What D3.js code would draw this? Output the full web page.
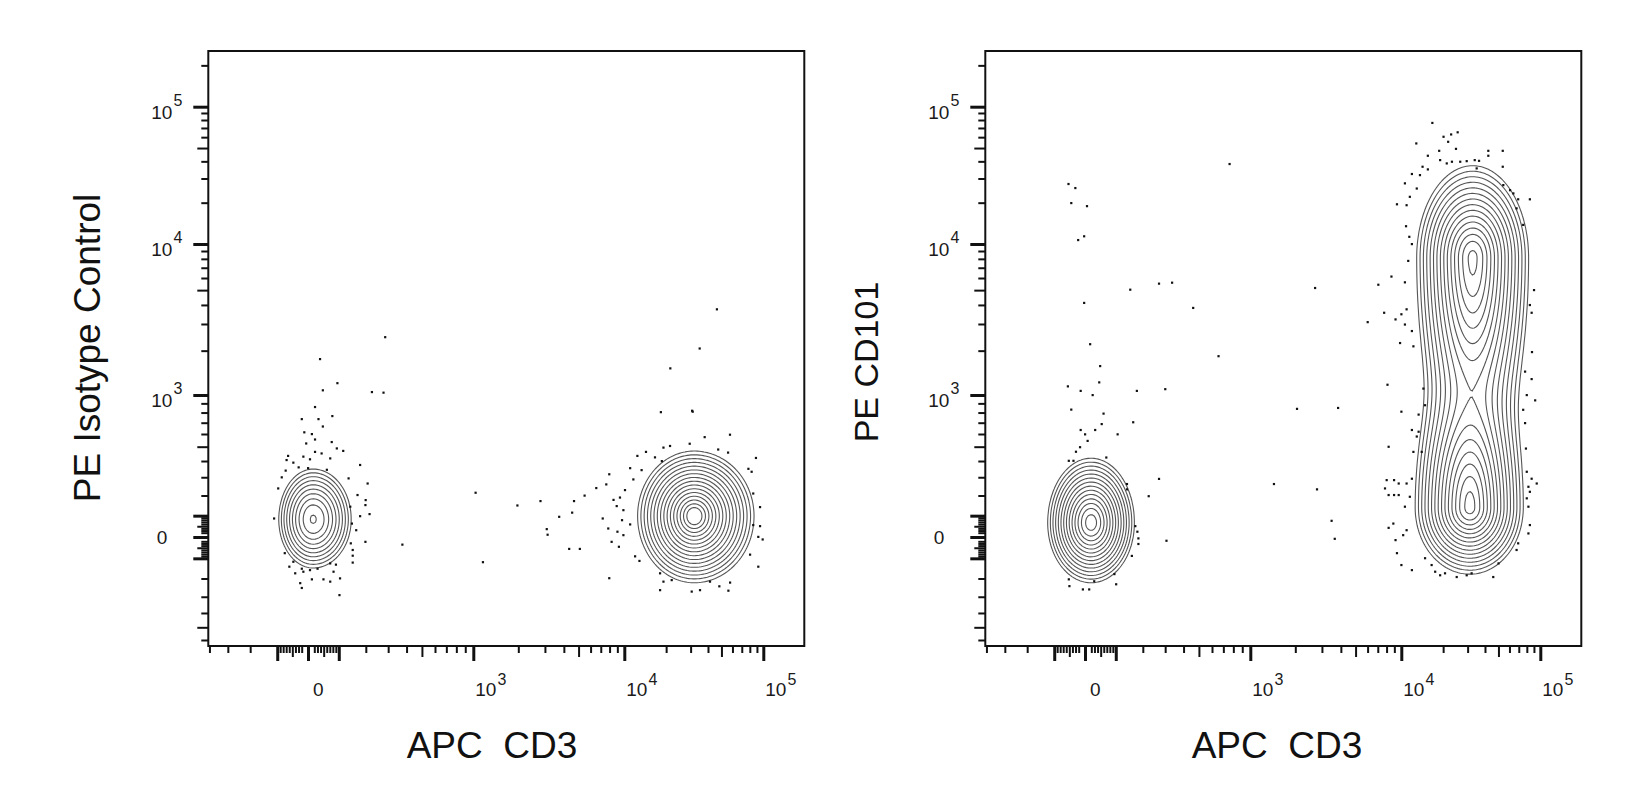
<!DOCTYPE html>
<html>
<head>
<meta charset="utf-8">
<script src="https://cdn.jsdelivr.net/npm/d3@7"></script>
<style>
    body { margin: 0; background: #fff; }
    text { font-family: "Liberation Sans", Arial, sans-serif; }
</style>
</head>
<body>
<svg id="chart" width="1650" height="800"></svg>
<script>
// ---- chart text ----
const xTitle = "APC  CD3";
const yTitles = ["PE Isotype Control", "PE CD101"];

// labelled ticks (same on both axes)
const tickLabelValues = [0, 1e3, 1e4, 1e5];
const tickLabelExps = ["", "3", "4", "5"];

// tick marks
const majorTickValues = [-100, 0, 100, 1e3, 1e4, 1e5];
const midTickValues = [-500, -50, 50, 500, 5e3, 5e4];
const minorSteps = [2, 3, 4, 6, 7, 8, 9];
const minorDecades = [-100, -10, 10, 100, 1e3, 1e4, 1e5];

// populations drawn as contours:
// [x mode, y mode, x low edge, x high edge, y low edge, y high edge, relative peak]
const isoClusters = [
    [13, 87, -98, 140, -142, 355, 0.45],
    [31300, 103, 12270, 84300, -217, 475, 1.0]
];
const cd101Clusters = [
    [16, 71, -126, 163, -217, 425, 0.85],
    [32100, 8240, 12700, 81000, 343, 37800, 0.9],
    [30600, 143, 12400, 74000, -172, 1970, 0.9]
];

// outlier events [APC CD3, PE]
const isoDots = [
    [47, 1080], [95, 1210], [277, 1040], [22, 860], [78, 765], [-20, 735], [33, 735], [47, 666],
    [-12, 615], [12, 600], [22, 556], [-6, 525], [76, 536], [93, 488], [115, 470], [22, 463],
    [43, 452], [-15, 430], [6, 412], [-64, 435], [-47, 390], [-72, 340], [71, 418], [177, 375],
    [134, 294], [207, 265], [-97, 238], [167, 203], [199, 177], [198, 152], [140, 144], [177, 98],
    [215, 108], [-111, 87], [146, 63], [162, 32], [142, -29], [198, -22], [149, -60], [149, -87],
    [149, -120], [-75, -75], [-47, -116], [71, -124], [-41, -173], [-15, -165], [12, -204], [49, -204],
    [-25, -224], [-20, -250], [71, -216], [104, -199], [102, -290], [6, -157], [82, -165], [-69, 407],
    [-85, 300], [-30, 360], [0, 355], [60, 345], [-60, -140], [-20, -150], [30, -150], [90, -130],
    [38, 1760], [285, 2460], [225, 1050],
    [375, -35], [1035, 215], [1160, -118], [1970, 150], [2800, 172], [3120, 11], [3080, 37],
    [3720, 95], [4530, 115], [4660, 172], [4330, -55], [5090, -55], [5470, 200], [6530, 240], [7600, 260],
    [46300, 3750], [34800, 2070], [21400, 1525], [30700, 820], [18300, 805],
    [31000, 810], [37800, 575], [57500, 595], [21300, 506], [29500, 523], [19100, 494], [47300, 480],
    [55700, 458], [88400, 421], [14300, 463], [16600, 425], [12400, 435], [18600, 400], [11000, 355],
    [13300, 343], [11600, 288], [7950, 318], [10100, 229], [9350, 190], [8480, 178], [8900, 147],
    [9850, 127], [7200, 87], [9650, 79], [11000, 59], [7830, 40], [9000, 25], [8240, -22], [9850, 9],
    [9200, -45], [82300, 333], [84500, 211], [94600, 142], [84500, 56], [94600, 51], [91900, 1],
    [98800, -11], [91900, -140], [11940, -90], [12830, -112], [7950, -198], [18060, -173], [19100, -216],
    [18060, -262], [21900, -208], [35000, -262], [41300, -216], [48200, -241], [56000, -265],
    [57600, -221], [30500, -270], [80200, -82], [78000, 351]
];
const cd101Dots = [
    [-55, 1150], [45, 1225], [-14, 1070], [24, 1000], [176, 1070], [-44, 832], [59, 790], [53, 688],
    [-14, 635], [32, 635], [0, 598], [106, 598], [8, 545], [-16, 497], [-29, 464], [-52, 402],
    [-37, 402], [68, 424], [139, 262], [139, 233], [224, 197], [170, 51], [178, 25], [182, -6],
    [182, -32], [157, -88], [95, -177], [101, -230], [-52, -204], [-50, -240], [-7, -258], [13, -258],
    [29, -214],
    [-53, 27400], [-31, 25600], [-44, 19900], [6, 18900], [-3, 11400], [-22, 10700], [-3, 4130],
    [16, 2210], [48, 1580], [151, 5040], [270, 5520], [335, 5600], [460, 3830], [655, 1840],
    [300, 1100], [162, 705], [270, 291], [306, -17], [760, 38300],
    [2700, 5170], [1440, 262], [2780, 233], [3470, 76], [3640, -8], [3830, 850], [2050, 840],
    [7050, 5430], [6000, 3090],
    [16700, 76300], [20100, 60500], [22800, 62900], [25400, 65200], [21700, 55600], [12800, 54100],
    [18700, 47800], [24700, 49400], [15500, 44000], [42200, 47800], [53600, 47800], [42200, 44000],
    [19000, 40900], [21200, 38700], [23100, 39800], [26500, 39800], [29500, 40200], [33700, 40900],
    [36200, 40400], [34800, 35600], [53600, 36600], [14200, 36600], [15500, 35000], [11900, 32400],
    [13600, 31800], [10600, 27700], [12900, 25400], [11500, 22100], [9350, 19500], [10900, 19200],
    [60500, 24700], [63900, 23400], [54100, 26900], [69200, 21200], [84000, 21200], [67400, 18200],
    [10800, 13500], [11400, 11300], [11900, 10000], [75200, 13800], [11200, 7770], [8600, 6140],
    [10600, 5630], [90000, 5010], [84000, 4000], [86500, 3560], [7700, 3560], [9150, 3220],
    [10000, 3480], [10900, 3750], [10600, 2980], [11900, 2700], [9800, 2250], [12200, 2140],
    [87000, 1960], [77600, 1450], [8100, 1180], [14400, 1110], [86500, 1290], [79800, 1000],
    [91700, 936], [14800, 880], [10000, 810], [13300, 780], [75200, 830], [11900, 635], [13300, 620],
    [12900, 580], [8240, 500], [12200, 463], [14000, 463], [77600, 697], [78700, 487], [8000, 284],
    [8950, 284], [9600, 265], [7800, 238], [10900, 265], [11900, 292], [8240, 203], [8950, 203],
    [9600, 203], [11500, 194], [10600, 144], [79800, 333], [86500, 292], [94100, 265], [82000, 247],
    [84000, 220], [79800, 186], [82000, 144], [8850, 63], [8240, 43], [10300, 9], [9150, -14],
    [10900, 32], [84000, 56], [82000, 17], [69200, -29], [9350, -75], [10000, -132], [11900, -157],
    [14800, -99], [16500, -132], [17500, -165], [19000, -183], [20600, -173], [25000, -192],
    [29500, -183], [32000, -173], [45800, -192], [50000, -124], [67400, -60]
];

// ---- layout ----
const frameTop = 51, frameW = 596, frameH = 595;
const panels = [
    { id: "iso", left: 208.3, clusters: isoClusters, dots: isoDots, yTitle: yTitles[0],
      xTitleX: 492, yTitleX: 100, yTitleY: 348, yTitleSize: 37 },
    { id: "cd101", left: 985.3, clusters: cd101Clusters, dots: cd101Dots, yTitle: yTitles[1],
      xTitleX: 1277, yTitleX: 878, yTitleY: 362, yTitleSize: 34 }
];

// biexponential-like display transform, anchored on the decade ticks
const xCof = 250, yCof = 400;
const tx = v => Math.asinh(v / xCof);
const ty = v => Math.asinh(v / yCof);
const anchorValues = [0, 1e3, 1e4, 1e5];

// contour levels: evenly spaced rings for a unit-peak population
const ringRadii = d3.range(0.35, 2.81, 0.155);
const levels = ringRadii.map(r => Math.exp(-r * r / 2)).sort((a, b) => a - b);
const outerLevel = levels[0];

const minorTickValues = minorDecades.flatMap(d => minorSteps.map(s => s * d));
const tickSets = [
    { values: minorTickValues, len: 7, w: 2 },
    { values: midTickValues, len: 11, w: 2 },
    { values: majorTickValues, len: 15, w: 3 }
];

const svg = d3.select("#chart");
svg.append("rect").attr("width", 1650).attr("height", 800).attr("fill", "#fff");

panels.forEach(DrawPanel);

function DrawPanel(p) {
    const x0 = p.left;
    const xs = d3.scaleLinear().domain(anchorValues.map(tx))
        .range([99.7, 265, 416, 555].map(d => d + x0));
    const ys = d3.scaleLinear().domain(anchorValues.map(ty))
        .range([537, 395, 244, 106.7]);
    const X = v => xs(tx(v));
    const Y = v => ys(ty(v));

    const g = svg.append("g");
    svg.append("clipPath").attr("id", "clip-" + p.id)
        .append("rect").attr("x", x0).attr("y", frameTop).attr("width", frameW).attr("height", frameH);

    // density grid in screen space (split gaussians)
    const cell = 2;
    const nx = Math.ceil(frameW / cell) + 1, ny = Math.ceil(frameH / cell) + 1;
    const comps = p.clusters.map(([xm, ym, xLo, xHi, yLo, yHi, peak]) => {
        const r = Math.sqrt(2 * Math.log(peak / outerLevel));
        const cx = X(xm), cy = Y(ym);
        return {
            cx: cx, cy: cy, peak: peak,
            sxL: Math.abs(cx - X(xLo)) / r, sxR: Math.abs(X(xHi) - cx) / r,
            syB: Math.abs(Y(yLo) - cy) / r, syT: Math.abs(cy - Y(yHi)) / r
        };
    });
    const grid = new Float64Array(nx * ny);
    for (let j = 0; j < ny; j++) {
        const py = frameTop + j * cell;
        for (let i = 0; i < nx; i++) {
            const px = x0 + i * cell;
            let s = 0;
            comps.forEach(c => {
                const dx = (px - c.cx) / (px < c.cx ? c.sxL : c.sxR);
                const dy = (py - c.cy) / (py > c.cy ? c.syB : c.syT);
                s += c.peak * Math.exp(-(dx * dx + dy * dy) / 2);
            });
            grid[j * nx + i] = s;
        }
    }
    const contours = d3.contours().size([nx, ny]).thresholds(levels)(grid);
    const path = d3.geoPath(d3.geoIdentity().scale(cell).translate([x0, frameTop]));

    const plot = g.append("g").attr("clip-path", `url(#clip-${p.id})`);
    plot.append("g")
        .selectAll("path")
        .data(contours)
        .join("path")
        .attr("d", path)
        .attr("fill", "none")
        .attr("stroke", "#555")
        .attr("stroke-width", 1.1);

    // outliers
    plot.append("g")
        .selectAll("rect")
        .data(p.dots)
        .join("rect")
        .attr("x", d => X(d[0]) - 1)
        .attr("y", d => Y(d[1]) - 1)
        .attr("width", 2.2)
        .attr("height", 2.2)
        .attr("fill", "#111");

    // frame
    g.append("rect")
        .attr("x", x0).attr("y", frameTop).attr("width", frameW).attr("height", frameH)
        .attr("fill", "none").attr("stroke", "#111").attr("stroke-width", 2);

    // tick marks through d3 axes on the transformed scales
    const xAxisG = g.append("g").attr("transform", `translate(0,${frameTop + frameH})`);
    const yAxisG = g.append("g").attr("transform", `translate(${x0},0)`);
    tickSets.forEach(t => {
        const xv = t.values.map(tx).filter(d => xs(d) >= x0 && xs(d) <= x0 + frameW);
        xAxisG.append("g")
            .call(d3.axisBottom(xs).tickValues(xv).tickSize(t.len).tickFormat(""))
            .call(a => a.select(".domain").remove())
            .selectAll("line").attr("stroke", "#111").attr("stroke-width", t.w);
        const yv = t.values.map(ty).filter(d => ys(d) >= frameTop && ys(d) <= frameTop + frameH);
        yAxisG.append("g")
            .call(d3.axisLeft(ys).tickValues(yv).tickSize(t.len).tickFormat(""))
            .call(a => a.select(".domain").remove())
            .selectAll("line").attr("stroke", "#111").attr("stroke-width", t.w);
    });

    // tick labels
    tickLabelValues.forEach((v, i) => {
        const exp = tickLabelExps[i];
        const xt = g.append("text")
            .attr("x", X(v) + (exp ? 2 : 5))
            .attr("y", 696)
            .attr("font-size", 19)
            .attr("fill", "#1a1a1a");
        if (exp) {
            xt.append("tspan").text("10");
            xt.append("tspan").attr("dx", 1).attr("dy", -11).attr("font-size", 16).text(exp);
        } else {
            xt.text("0");
        }
        const yt = g.append("text")
            .attr("text-anchor", "end")
            .attr("font-size", 19)
            .attr("fill", "#1a1a1a");
        if (exp) {
            yt.attr("x", x0 - 26).attr("y", Y(v) + 12);
            yt.append("tspan").text("10");
            yt.append("tspan").attr("dx", 1).attr("dy", -13).attr("font-size", 16).text(exp);
        } else {
            yt.attr("x", x0 - 41).attr("y", Y(v) + 7).text("0");
        }
    });

    // axis titles
    g.append("text")
        .attr("x", p.xTitleX)
        .attr("y", 758)
        .attr("text-anchor", "middle")
        .attr("font-size", 37)
        .attr("fill", "#111")
        .style("white-space", "pre")
        .text(xTitle);
    g.append("text")
        .attr("transform", `translate(${p.yTitleX},${p.yTitleY}) rotate(-90)`)
        .attr("text-anchor", "middle")
        .attr("font-size", p.yTitleSize)
        .attr("fill", "#111")
        .text(p.yTitle);
}
</script>
</body>
</html>
